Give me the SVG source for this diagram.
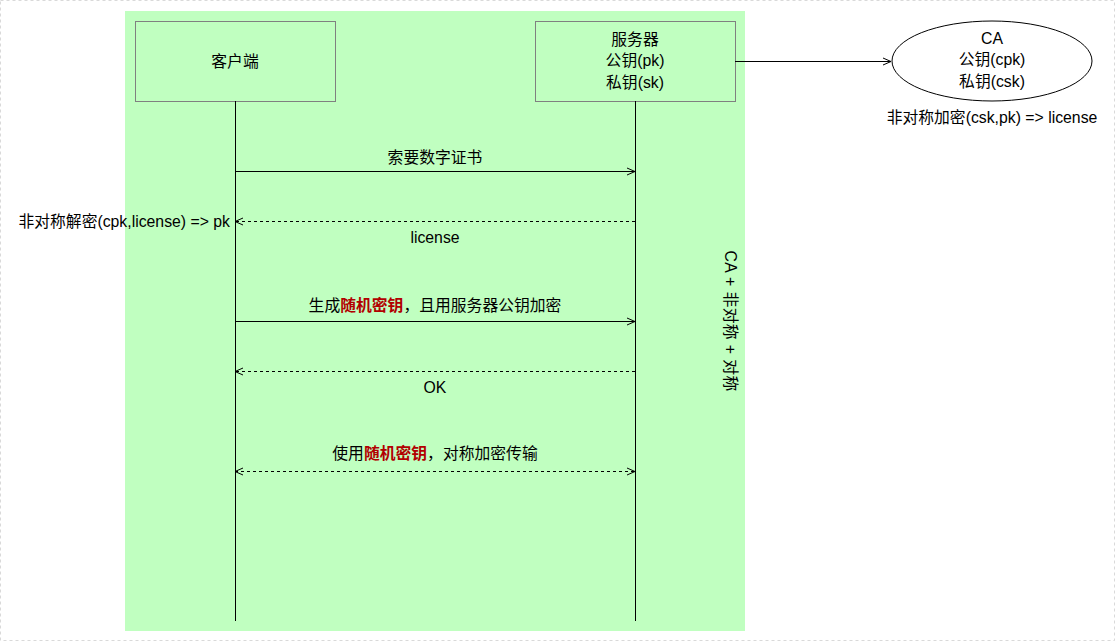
<svg xmlns="http://www.w3.org/2000/svg" width="1115" height="642" viewBox="0 0 1115 642">
<style>
text{font-family:"Liberation Sans","Noto Sans CJK SC",sans-serif;font-size:15.8px;fill:#000;}
.c{text-anchor:middle;}
.r{text-anchor:end;}
.red{fill:#B20000;font-weight:bold;}
.box{fill:#C0FFC0;stroke:#808080;stroke-width:1;}
.ln{stroke:#000;stroke-width:1;fill:none;}
.dash{stroke-dasharray:3 3;}
</style>
<defs>
<marker id="ah" viewBox="0 0 10 10" refX="9" refY="5" markerWidth="10" markerHeight="10" markerUnits="userSpaceOnUse" orient="auto-start-reverse">
<polyline points="1,1.5 9,5 1,8.5" fill="none" stroke="#000" stroke-width="1"/>
</marker>
</defs>
<rect x="0.5" y="0.5" width="1114" height="640" fill="#fff" stroke="#d9d9d9" stroke-dasharray="3 3"/>
<g id="frame">
<rect x="125" y="11" width="620" height="620" fill="#C0FFC0"/>
<text class="c" transform="translate(725,321) rotate(90)" letter-spacing="0.4">CA + 非对称 + 对称</text>
</g>
<g id="client">
<rect class="box" x="135.5" y="21.5" width="200" height="80"/>
<text class="c" x="235" y="67">客户端</text>
</g>
<g id="server">
<rect class="box" x="535.5" y="21.5" width="200" height="80"/>
<text class="c" x="635" y="45">服务器</text>
<text class="c" x="635" y="66">公钥(pk)</text>
<text class="c" x="635" y="88">私钥(sk)</text>
</g>
<g id="ca">
<ellipse cx="992" cy="61" rx="100" ry="40" fill="#fff" stroke="#000"/>
<text class="c" x="992" y="44">CA</text>
<text class="c" x="992" y="65">公钥(cpk)</text>
<text class="c" x="992" y="87">私钥(csk)</text>
<text class="c" x="992" y="123">非对称加密(csk,pk) =&gt; license</text>
</g>
<g id="connectors">
<line class="ln" x1="235.5" y1="101" x2="235.5" y2="621"/>
<line class="ln" x1="635.5" y1="101" x2="635.5" y2="621"/>
<line class="ln" x1="735" y1="61.5" x2="891" y2="61.5" marker-end="url(#ah)"/>
<line class="ln" x1="235" y1="171.5" x2="635" y2="171.5" marker-end="url(#ah)"/>
<line class="ln dash" x1="635" y1="221.5" x2="235" y2="221.5" marker-end="url(#ah)"/>
<line class="ln" x1="235" y1="321.5" x2="635" y2="321.5" marker-end="url(#ah)"/>
<line class="ln dash" x1="635" y1="371.5" x2="235" y2="371.5" marker-end="url(#ah)"/>
<line class="ln dash" x1="235" y1="471.5" x2="635" y2="471.5" marker-start="url(#ah)" marker-end="url(#ah)"/>
</g>
<g id="labels">
<text class="c" x="435" y="163">索要数字证书</text>
<text class="r" x="230" y="227">非对称解密(cpk,license) =&gt; pk</text>
<text class="c" x="435" y="243">license</text>
<text class="c" x="435" y="311">生成<tspan class="red">随机密钥</tspan>，且用服务器公钥加密</text>
<text class="c" x="435" y="393">OK</text>
<text class="c" x="435" y="459">使用<tspan class="red">随机密钥</tspan>，对称加密传输</text>
</g>
</svg>
